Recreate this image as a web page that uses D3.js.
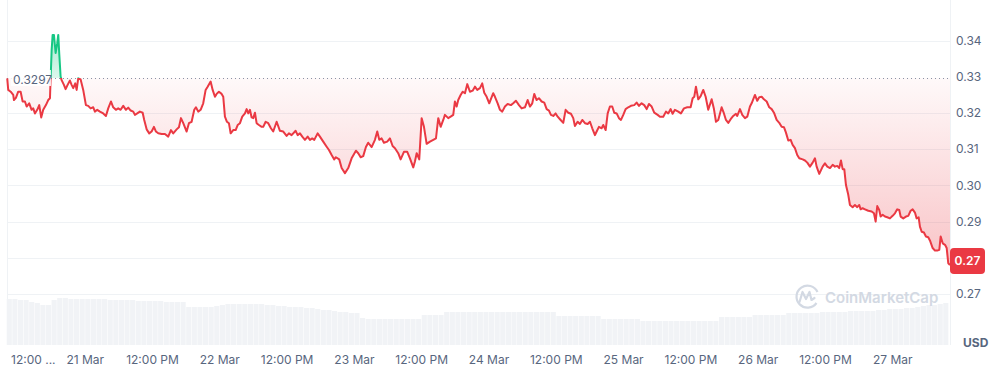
<!DOCTYPE html>
<html lang="en">
<head>
<meta charset="UTF-8">
<title>Price chart</title>
<style>
  body { margin: 0; background: #fff; }
  svg { display: block; font-family: Inter, "Noto Sans", sans-serif; }
  .grid { stroke: #eff2f5; stroke-width: 1px; }
  .lbl { fill: #58667e; font-size: 12px; }
</style>
</head>
<body>
<script src="https://cdn.jsdelivr.net/npm/d3@7/dist/d3.min.js"></script>
<script>
// hours are counted from 20 Mar 00:00 (UTC)
const startDay = Date.UTC(2025, 2, 20);
const toDate = h => new Date(startDay + h * 3600e3);

// [hour, price]
const pricePoints = [
  [10.09,0.3296],[10.27,0.3264],[10.70,0.3259],[11.16,0.3250],[11.29,0.3236],[11.64,0.3242],[12.05,0.3259],[12.48,0.3259],
  [12.84,0.3232],[13.25,0.3232],[13.55,0.3218],[14.01,0.3227],[14.44,0.3209],[14.73,0.3213],[15.03,0.3199],[15.44,0.3209],
  [15.80,0.3222],[16.15,0.3188],[16.51,0.3209],[16.99,0.3222],[17.40,0.3236],[17.71,0.3241],[17.83,0.3296],[18.01,0.3374],
  [18.19,0.3416],[18.42,0.3416],[18.72,0.3366],[19.01,0.3393],[19.19,0.3416],[19.36,0.3366],[19.61,0.3301],[19.79,0.3291],
  [20.20,0.3278],[20.50,0.3266],[20.86,0.3278],[21.27,0.3290],[21.57,0.3278],[21.86,0.3269],[22.22,0.3282],[22.47,0.3264],
  [22.75,0.3296],[23.18,0.3293],[23.64,0.3264],[24.12,0.3222],[24.53,0.3220],[24.96,0.3213],[25.43,0.3216],[25.73,0.3204],
  [26.14,0.3209],[26.62,0.3204],[27.21,0.3199],[27.69,0.3192],[28.10,0.3213],[28.58,0.3232],[28.99,0.3216],[29.47,0.3209],
  [29.88,0.3213],[30.31,0.3209],[30.78,0.3220],[31.26,0.3209],[31.67,0.3215],[32.10,0.3207],[32.56,0.3204],[32.86,0.3195],
  [33.27,0.3199],[33.75,0.3204],[34.24,0.3201],[34.52,0.3181],[34.95,0.3155],[35.41,0.3144],[35.84,0.3149],[36.25,0.3162],
  [36.61,0.3149],[37.02,0.3144],[37.62,0.3142],[38.21,0.3142],[38.80,0.3135],[39.28,0.3153],[39.69,0.3144],[40.30,0.3155],
  [40.71,0.3161],[41.07,0.3186],[41.48,0.3172],[42.08,0.3149],[42.49,0.3172],[42.97,0.3176],[43.44,0.3209],[43.74,0.3216],
  [44.15,0.3204],[44.58,0.3209],[45.04,0.3227],[45.47,0.3264],[45.83,0.3273],[46.36,0.3287],[46.72,0.3264],[47.13,0.3245],
  [47.43,0.3253],[47.84,0.3259],[48.32,0.3253],[48.61,0.3245],[48.91,0.3190],[49.27,0.3176],[49.62,0.3172],[49.93,0.3144],
  [50.39,0.3153],[50.82,0.3153],[51.18,0.3167],[51.59,0.3172],[52.00,0.3190],[52.48,0.3199],[52.78,0.3211],[53.07,0.3199],
  [53.37,0.3209],[53.67,0.3188],[53.96,0.3186],[54.26,0.3201],[54.56,0.3172],[54.97,0.3167],[55.46,0.3162],[55.74,0.3162],
  [56.17,0.3176],[56.63,0.3172],[57.11,0.3158],[57.52,0.3149],[58.13,0.3176],[58.72,0.3151],[59.31,0.3149],[59.91,0.3137],
  [60.32,0.3144],[60.80,0.3139],[61.52,0.3151],[61.88,0.3139],[62.29,0.3144],[62.70,0.3135],[63.18,0.3126],[63.66,0.3135],
  [64.07,0.3126],[64.48,0.3130],[64.84,0.3126],[65.44,0.3144],[65.85,0.3135],[66.44,0.3121],[67.05,0.3107],[67.46,0.3098],
  [67.94,0.3084],[68.40,0.3072],[68.70,0.3078],[69.29,0.3072],[69.72,0.3048],[70.31,0.3034],[70.90,0.3048],[71.50,0.3075],
  [72.27,0.3096],[72.68,0.3089],[73.11,0.3078],[73.57,0.3081],[74.05,0.3106],[74.46,0.3118],[75.07,0.3106],[75.66,0.3126],
  [76.07,0.3149],[76.43,0.3126],[76.85,0.3130],[77.26,0.3118],[77.85,0.3121],[78.33,0.3130],[78.81,0.3109],[79.23,0.3103],
  [79.81,0.3089],[80.24,0.3072],[80.83,0.3093],[81.42,0.3093],[81.90,0.3075],[82.49,0.3050],[82.79,0.3066],[83.10,0.3089],
  [83.56,0.3072],[83.99,0.3186],[84.40,0.3162],[84.88,0.3115],[85.47,0.3121],[86.06,0.3126],[86.54,0.3130],[86.95,0.3186],
  [87.38,0.3162],[87.84,0.3181],[88.14,0.3195],[88.73,0.3186],[89.16,0.3190],[89.62,0.3195],[89.92,0.3232],[90.23,0.3218],
  [90.51,0.3236],[90.94,0.3250],[91.30,0.3259],[91.71,0.3255],[92.12,0.3280],[92.60,0.3259],[93.08,0.3262],[93.49,0.3273],
  [93.90,0.3264],[94.38,0.3269],[94.79,0.3282],[95.15,0.3256],[95.58,0.3245],[96.04,0.3227],[96.75,0.3255],[97.06,0.3245],
  [97.54,0.3227],[97.95,0.3209],[98.36,0.3204],[98.84,0.3218],[99.32,0.3225],[99.91,0.3222],[100.32,0.3227],[100.80,0.3234],
  [101.34,0.3222],[101.82,0.3213],[102.41,0.3216],[102.89,0.3236],[103.30,0.3218],[103.71,0.3227],[104.07,0.3253],[104.49,0.3236],
  [104.90,0.3241],[105.38,0.3232],[105.85,0.3229],[106.28,0.3211],[106.69,0.3207],[107.04,0.3195],[107.46,0.3192],[107.88,0.3199],
  [108.24,0.3190],[108.65,0.3183],[109.24,0.3173],[109.66,0.3209],[110.13,0.3201],[110.61,0.3198],[111.02,0.3186],[111.32,0.3164],
  [111.80,0.3176],[112.21,0.3170],[112.63,0.3181],[113.11,0.3172],[113.59,0.3170],[114.00,0.3176],[114.41,0.3158],[114.89,0.3139],
  [115.19,0.3149],[115.60,0.3162],[116.08,0.3158],[116.37,0.3167],[116.80,0.3153],[117.16,0.3199],[117.56,0.3218],[117.97,0.3218],
  [118.33,0.3201],[118.76,0.3199],[119.17,0.3186],[119.53,0.3181],[119.94,0.3195],[120.36,0.3211],[120.83,0.3216],[121.31,0.3220],
  [121.90,0.3222],[122.32,0.3229],[122.74,0.3220],[123.21,0.3227],[123.68,0.3222],[124.11,0.3211],[124.52,0.3225],[125.00,0.3218],
  [125.46,0.3201],[126.07,0.3195],[126.48,0.3190],[127.07,0.3190],[127.55,0.3204],[127.96,0.3199],[128.39,0.3211],[128.74,0.3198],
  [129.15,0.3209],[129.74,0.3204],[130.22,0.3199],[130.76,0.3213],[131.35,0.3216],[131.95,0.3216],[132.31,0.3241],[132.60,0.3245],
  [132.90,0.3273],[133.31,0.3238],[133.74,0.3247],[134.20,0.3264],[134.63,0.3245],[135.09,0.3209],[135.70,0.3238],[136.11,0.3211],
  [136.47,0.3176],[136.88,0.3181],[137.48,0.3216],[137.89,0.3199],[138.25,0.3181],[138.66,0.3173],[139.09,0.3183],[139.55,0.3192],
  [140.03,0.3198],[140.26,0.3192],[140.75,0.3211],[141.16,0.3195],[141.64,0.3186],[142.05,0.3190],[142.53,0.3218],[142.83,0.3227],
  [143.42,0.3250],[143.83,0.3234],[144.19,0.3244],[144.62,0.3245],[145.02,0.3238],[145.51,0.3232],[145.97,0.3216],[146.40,0.3211],
  [146.81,0.3201],[147.29,0.3181],[147.75,0.3173],[148.18,0.3162],[148.59,0.3161],[148.95,0.3146],[149.36,0.3124],[149.79,0.3126],
  [150.14,0.3112],[150.55,0.3103],[150.96,0.3084],[151.32,0.3075],[151.93,0.3072],[152.34,0.3069],[152.75,0.3063],[153.23,0.3052],
  [153.71,0.3063],[154.12,0.3075],[154.42,0.3052],[154.89,0.3032],[155.49,0.3052],[155.90,0.3061],[156.32,0.3052],[156.80,0.3048],
  [157.28,0.3057],[157.68,0.3052],[158.10,0.3054],[158.45,0.3048],[158.76,0.3069],[159.06,0.3045],[159.35,0.3045],[159.65,0.3001],
  [160.06,0.2974],[160.36,0.2946],[160.84,0.2940],[161.25,0.2946],[161.66,0.2940],[162.02,0.2946],[162.27,0.2934],[162.62,0.2937],
  [163.04,0.2934],[163.63,0.2930],[164.23,0.2928],[164.64,0.2923],[164.94,0.2900],[165.23,0.2943],[165.58,0.2932],[165.83,0.2914],
  [166.19,0.2919],[166.60,0.2914],[167.01,0.2912],[167.49,0.2909],[167.97,0.2916],[168.38,0.2923],[168.79,0.2934],[169.15,0.2932],
  [169.40,0.2914],[169.87,0.2909],[170.35,0.2914],[170.76,0.2916],[171.18,0.2930],[171.54,0.2934],[171.95,0.2925],[172.25,0.2909],
  [172.61,0.2912],[172.84,0.2886],[173.15,0.2872],[173.55,0.2870],[173.91,0.2859],[174.32,0.2857],[174.62,0.2848],[175.11,0.2827],
  [175.52,0.2820],[175.93,0.2820],[176.29,0.2822],[176.54,0.2859],[176.90,0.2840],[177.31,0.2836],[177.61,0.2827],[177.89,0.2785],
  [178.20,0.2780]
];

// hourly volume, first bar at hour 10
const volStartHour = 10;
const volumes = [
  46,46,45,45,43,42,40,40,45,47,47,46,46,46,46,46,46,46,45,45,
  45,45,45,44,44,44,44,44,43,43,43,43,38,38,38,38,38,39,40,41,
  41,41,41,41,41,41,40,40,39,39,38,38,38,37,37,36,35,35,34,33,
  33,32,32,27,26,26,26,26,26,26,26,26,26,26,30,30,30,30,33,33,
  33,33,33,33,33,33,33,33,33,33,33,33,33,33,33,33,33,33,29,29,
  29,29,29,29,29,29,26,26,26,26,26,26,26,24,24,24,24,24,24,24,
  24,24,24,24,24,24,24,28,28,28,28,28,28,30,30,30,30,30,30,32,
  32,32,32,32,32,33,33,33,33,33,34,34,34,34,34,35,35,36,36,36,
  37,37,38,39,40,40,41,42
];

const basePrice = 0.3297;
const yTicks = [0.34, 0.33, 0.32, 0.31, 0.30, 0.29, 0.28, 0.27];
const lastPriceLabel = '0.27';
const currency = 'USD';

let W = 993, H = 371;
let pl = 7, pr = 950;

let svg = d3.select('body').append('svg')
  .attr('width', W).attr('height', H);

let x = d3.scaleUtc().domain([toDate(10.05), toDate(178.2)]).range([pl, pr]);
let y = d3.scaleLinear().domain([0.27, 0.34]).range([294, 40.7]);
let yv = d3.scaleLinear().domain([0, 50]).range([345, 295]);
let y0 = y(basePrice);
let lastY = y(pricePoints[pricePoints.length - 1][1]);

// gradients + clips
let defs = svg.append('defs');
let gRed = defs.append('linearGradient').attr('id', 'gRed')
  .attr('gradientUnits', 'userSpaceOnUse').attr('x1', 0).attr('x2', 0).attr('y1', y0).attr('y2', 294);
gRed.append('stop').attr('offset', 0).attr('stop-color', '#ea3943').attr('stop-opacity', 0.03);
gRed.append('stop').attr('offset', 1).attr('stop-color', '#ea3943').attr('stop-opacity', 0.34);
let gGreen = defs.append('linearGradient').attr('id', 'gGreen')
  .attr('gradientUnits', 'userSpaceOnUse').attr('x1', 0).attr('x2', 0).attr('y1', 30).attr('y2', y0);
gGreen.append('stop').attr('offset', 0).attr('stop-color', '#16c784').attr('stop-opacity', 0.4);
gGreen.append('stop').attr('offset', 1).attr('stop-color', '#16c784').attr('stop-opacity', 0.15);

defs.append('clipPath').attr('id', 'above').append('rect')
  .attr('x', 0).attr('y', 0).attr('width', W).attr('height', y0);
defs.append('clipPath').attr('id', 'below').append('rect')
  .attr('x', 0).attr('y', y0).attr('width', W).attr('height', H - y0);

// grid
svg.selectAll('.grid.h')
  .data(yTicks.filter(t => t != 0.33))
  .enter().append('line')
  .attr('class', 'grid h')
  .attr('x1', pl).attr('x2', pr)
  .attr('y1', d => Math.round(y(d)) + 0.5).attr('y2', d => Math.round(y(d)) + 0.5);
svg.append('line').attr('class', 'grid')
  .attr('x1', pl + 0.5).attr('x2', pl + 0.5).attr('y1', 0).attr('y2', 345);
svg.append('line').attr('class', 'grid')
  .attr('x1', pr + 0.5).attr('x2', pr + 0.5).attr('y1', 0).attr('y2', 345);

// volume bars
svg.selectAll('.vol')
  .data(volumes)
  .enter().append('rect')
  .attr('class', 'vol')
  .attr('x', (d, i) => x(toDate(volStartHour + i)))
  .attr('width', (d, i) => x(toDate(volStartHour + i + 1)) - x(toDate(volStartHour + i)) - 0.5)
  .attr('y', d => yv(d))
  .attr('height', d => yv(0) - yv(d))
  .attr('fill', '#f1f3f6');

// watermark
let wm = svg.append('g').attr('fill', 'none').attr('stroke', '#d3d9e3');
wm.append('path')
  .attr('d', 'M816.5,303 A11,11 0 1 1 817.5,292')
  .attr('stroke-width', 2.2);
wm.append('path')
  .attr('d', 'M799.5,302 L802.5,292 L806,299 L809.5,292 L811.5,300 L814.5,298')
  .attr('stroke-width', 2.2).attr('stroke-linejoin', 'round').attr('stroke-linecap', 'round');
svg.append('text')
  .attr('x', 825).attr('y', 302.5)
  .attr('fill', '#d3d9e3').attr('font-size', '15px').attr('font-weight', 600)
  .text('CoinMarketCap');

// price area + line
let area = d3.area()
  .x(d => x(toDate(d[0])))
  .y0(y0)
  .y1(d => y(d[1]));
let line = d3.line()
  .x(d => x(toDate(d[0])))
  .y(d => y(d[1]));

svg.append('path').datum(pricePoints)
  .attr('d', area).attr('fill', 'url(#gRed)').attr('clip-path', 'url(#below)');
svg.append('path').datum(pricePoints)
  .attr('d', area).attr('fill', 'url(#gGreen)').attr('clip-path', 'url(#above)');

// base line
svg.append('line')
  .attr('x1', pl).attr('x2', pr)
  .attr('y1', Math.round(y0) + 0.5).attr('y2', Math.round(y0) + 0.5)
  .attr('stroke', '#8a93a5').attr('stroke-width', 1).attr('stroke-dasharray', '1,3');

svg.append('path').datum(pricePoints)
  .attr('d', line).attr('fill', 'none').attr('stroke', '#ea3943')
  .attr('stroke-width', 2).attr('stroke-linejoin', 'round').attr('clip-path', 'url(#below)');
svg.append('path').datum(pricePoints)
  .attr('d', line).attr('fill', 'none').attr('stroke', '#16c784')
  .attr('stroke-width', 2).attr('stroke-linejoin', 'round').attr('clip-path', 'url(#above)');

// base price label
svg.append('rect')
  .attr('x', 11).attr('y', y0 - 8).attr('width', 40).attr('height', 16)
  .attr('fill', '#fff').attr('fill-opacity', 0.85);
svg.append('text')
  .attr('class', 'lbl')
  .attr('x', 13).attr('y', y0 + 2).attr('dy', '0.35em')
  .text(basePrice.toFixed(4));

// y labels (the one behind the price badge is hidden, as in the original)
svg.selectAll('.ylbl')
  .data(yTicks.filter(t => Math.abs(y(t) - lastY) > 14))
  .enter().append('text')
  .attr('class', 'lbl ylbl')
  .attr('x', 956).attr('y', d => y(d)).attr('dy', '0.35em')
  .text(d => d.toFixed(2));

// current price badge
svg.append('rect')
  .attr('x', 950).attr('y', 248).attr('width', 35).attr('height', 26).attr('rx', 4)
  .attr('fill', '#ea3943');
svg.append('text')
  .attr('x', 967.5).attr('y', 261).attr('dy', '0.35em')
  .attr('text-anchor', 'middle').attr('fill', '#fff')
  .attr('font-size', '12px').attr('font-weight', 600)
  .text(lastPriceLabel);

// currency
svg.append('text')
  .attr('x', 963).attr('y', 343).attr('dy', '0.35em')
  .attr('fill', '#58667e').attr('font-size', '12px').attr('font-weight', 700)
  .text(currency);

// x labels
let xTicks = x.ticks(d3.utcHour.every(12));
svg.selectAll('.xlbl')
  .data(xTicks)
  .enter().append('text')
  .attr('class', 'lbl xlbl')
  .attr('x', (d, i) => i == 0 ? 11 : x(d))
  .attr('y', 360).attr('dy', '0.35em')
  .attr('text-anchor', (d, i) => i == 0 ? 'start' : 'middle')
  .text((d, i) => {
    if (i == 0) return '12:00 ...';
    return d.getUTCHours() == 0 ? d3.utcFormat('%-d %b')(d) : '12:00 PM';
  });
</script>
</body>
</html>
